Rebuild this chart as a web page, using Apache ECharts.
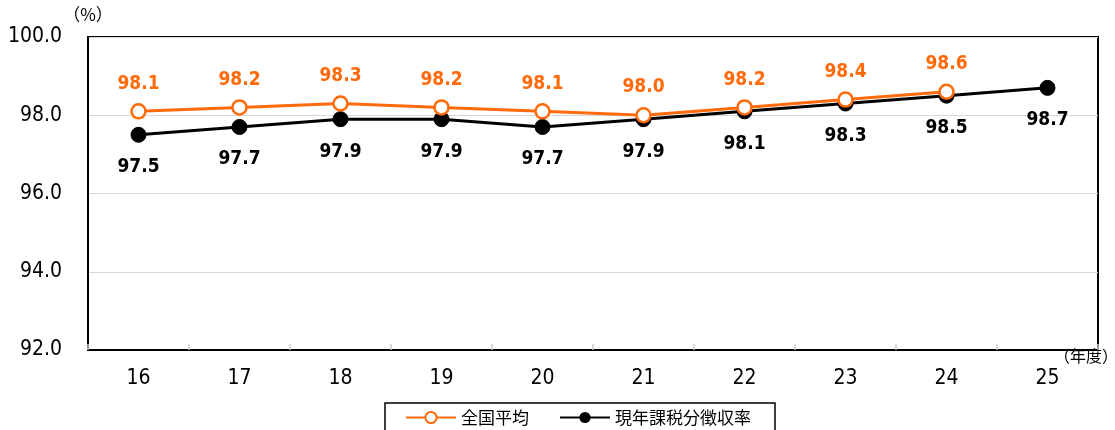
<!DOCTYPE html>
<html>
<head>
<meta charset="utf-8">
<script src="https://cdn.jsdelivr.net/npm/echarts@6/dist/echarts.min.js"></script>
<style>
  html, body { margin: 0; padding: 0; background: #fff; }
  #chart { width: 1115px; height: 430px; }
</style>
</head>
<body>
<div id="chart"></div>
<script>
(function() {
// ── データ ──
const years = ['16', '17', '18', '19', '20', '21', '22', '23', '24', '25'];
const zenkoku = [98.1, 98.2, 98.3, 98.2, 98.1, 98.0, 98.2, 98.4, 98.6, null];
const genen = [97.5, 97.7, 97.9, 97.9, 97.7, 97.9, 98.1, 98.3, 98.5, 98.7];
const seriesNames = ['全国平均', '現年課税分徴収率'];

const orange = '#ff6a0a';
const jpFont = '"Noto Sans CJK JP", sans-serif';
const numFont = '"Liberation Sans Narrow", "DejaVu Sans Condensed", "Noto Sans", sans-serif';

const chart = echarts.init(document.getElementById('chart'));
chart.setOption({
  animation: false,
  grid: { left: 88, right: 17, top: 37, bottom: 80, show: true, outerBoundsMode: 'none',
    borderColor: '#000', borderWidth: 2, backgroundColor: 'transparent' },
  legend: {
    bottom: -6, left: 385, itemGap: 30, itemWidth: 50, itemHeight: 14,
    padding: [6, 24, 10, 20],
    borderColor: '#000', borderWidth: 1.5,
    textStyle: { fontFamily: jpFont, fontSize: 17, color: '#000' },
    data: seriesNames
  },
  xAxis: {
    type: 'category', data: years, boundaryGap: true,
    axisLine: { show: true, lineStyle: { color: '#000', width: 2 } },
    axisTick: { show: true, inside: true, length: 6, lineStyle: { color: '#ccc', width: 1.5 } },
    axisLabel: { color: '#000', fontSize: 21, fontFamily: numFont, margin: 18 },
    name: '（年度）', nameGap: 0,
    nameTextStyle: { fontFamily: jpFont, fontSize: 16, color: '#000', verticalAlign: 'top', padding: [-2, 0, 0, -44] }
  },
  yAxis: {
    type: 'value', min: 92, max: 100, interval: 2,
    axisLine: { show: true, lineStyle: { color: '#000', width: 2 } },
    axisTick: { show: false },
    splitLine: { lineStyle: { color: '#d8d8d8', width: 1 } },
    axisLabel: { color: '#000', fontSize: 21, fontFamily: numFont, margin: 26,
      formatter: v => v.toFixed(1) },
    name: '（%）', nameGap: 14,
    nameTextStyle: { fontFamily: jpFont, fontSize: 17, color: '#000', align: 'center', padding: [0, 0, 0, 0] }
  },
  series: [
    { name: seriesNames[0], type: 'line', data: zenkoku,
      symbol: 'circle', symbolSize: 14, z: 3,
      lineStyle: { color: orange, width: 3 },
      itemStyle: { color: '#fff', borderColor: orange, borderWidth: 2.5 },
      label: { show: true, position: 'top', distance: 10, color: orange,
        fontFamily: numFont, fontWeight: 'bold', fontSize: 19,
        formatter: p => p.value.toFixed(1) }
    },
    { name: seriesNames[1], type: 'line', data: genen,
      symbol: 'circle', symbolSize: 15, z: 2,
      lineStyle: { color: '#000', width: 3 },
      itemStyle: { color: '#000', borderColor: '#000' },
      label: { show: true, position: 'bottom', distance: 15, color: '#000',
        fontFamily: numFont, fontWeight: 'bold', fontSize: 19,
        formatter: p => p.value.toFixed(1) }
    }
  ]
});
window.addEventListener('resize', () => chart.resize());
})();
</script>
</body>
</html>
